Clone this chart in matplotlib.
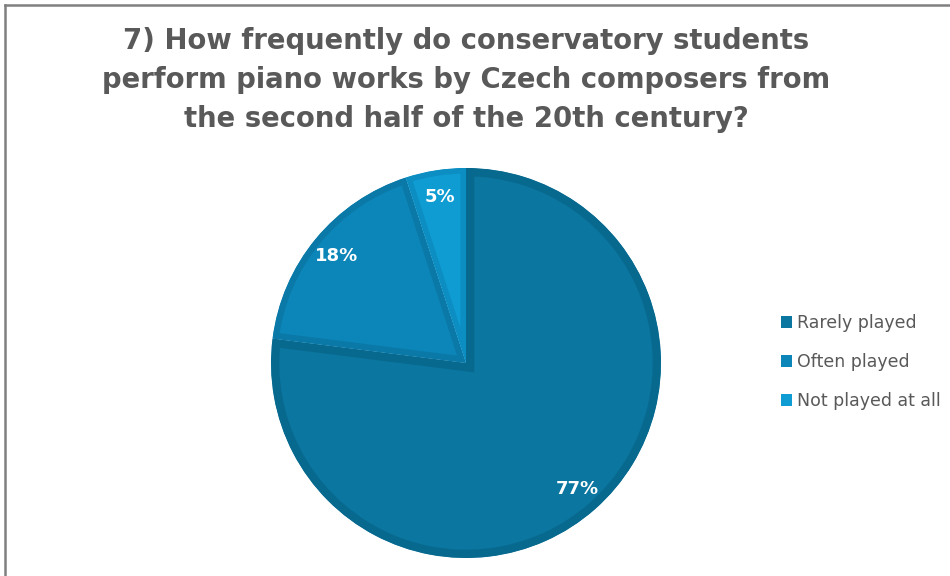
import matplotlib
matplotlib.use("Agg")
import matplotlib.pyplot as plt
from matplotlib.patches import Patch, Wedge
from matplotlib.lines import Line2D

categories = ["Rarely played", "Often played", "Not played at all"]
values = [77, 18, 5]
fills = ["#0B76A0", "#0C86B8", "#0E9CD2"]
edges = ["#08698F", "#0A79A8", "#0C8EC2"]
title = ("7) How frequently do conservatory students\n"
         "perform piano works by Czech composers from\n"
         "the second half of the 20th century?")

W, H = 950, 576
fig = plt.figure(figsize=(W / 100, H / 100), dpi=100)
fig.patch.set_facecolor("white")

cx, cy, r = 466, 363, 195
ax = fig.add_axes([(cx - r) / W, (H - cy - r) / H, 2 * r / W, 2 * r / H])

wedges, texts, autotexts = ax.pie(
    values, startangle=90, counterclock=False, colors=fills,
    autopct=lambda p: f"{p:.0f}%", pctdistance=0.86, radius=1,
    textprops=dict(color="white", fontsize=13, fontweight="bold"),
    frame=True)
ax.set_xlim(-1, 1)
ax.set_ylim(-1, 1)
ax.axis("off")
lws = [12, 9, 8]
for w, ec, lw in zip(wedges, edges, lws):
    clip = Wedge(w.center, w.r, w.theta1, w.theta2, transform=ax.transData)
    w.set_edgecolor(ec)
    w.set_linewidth(lw)
    w.set_joinstyle("miter")
    w.set_clip_on(True)
    w.set_clip_path(clip)

fig.text(cx / W, 1 - 80 / H, title, ha="center", va="center",
         fontsize=19.8, fontweight="bold", color="#595959",
         linespacing=1.51, family="DejaVu Sans")

handles = [Patch(facecolor=c, edgecolor="none") for c in fills]
fig.legend(handles, categories, loc="center left",
           bbox_to_anchor=(781 / W, 1 - 362 / H), frameon=False,
           fontsize=12.5, labelcolor="#595959", handlelength=0.65,
           handleheight=0.65, handletextpad=0.3, labelspacing=1.2,
           borderpad=0, borderaxespad=0)

fig.add_artist(Line2D([5 / W, 1], [1 - 5 / H, 1 - 5 / H], color="#808080",
                      lw=1.8, transform=fig.transFigure))
fig.add_artist(Line2D([5 / W, 5 / W], [0, 1 - 5 / H], color="#808080",
                      lw=1.8, transform=fig.transFigure))

fig.savefig("out.png", dpi=100, facecolor="white")
